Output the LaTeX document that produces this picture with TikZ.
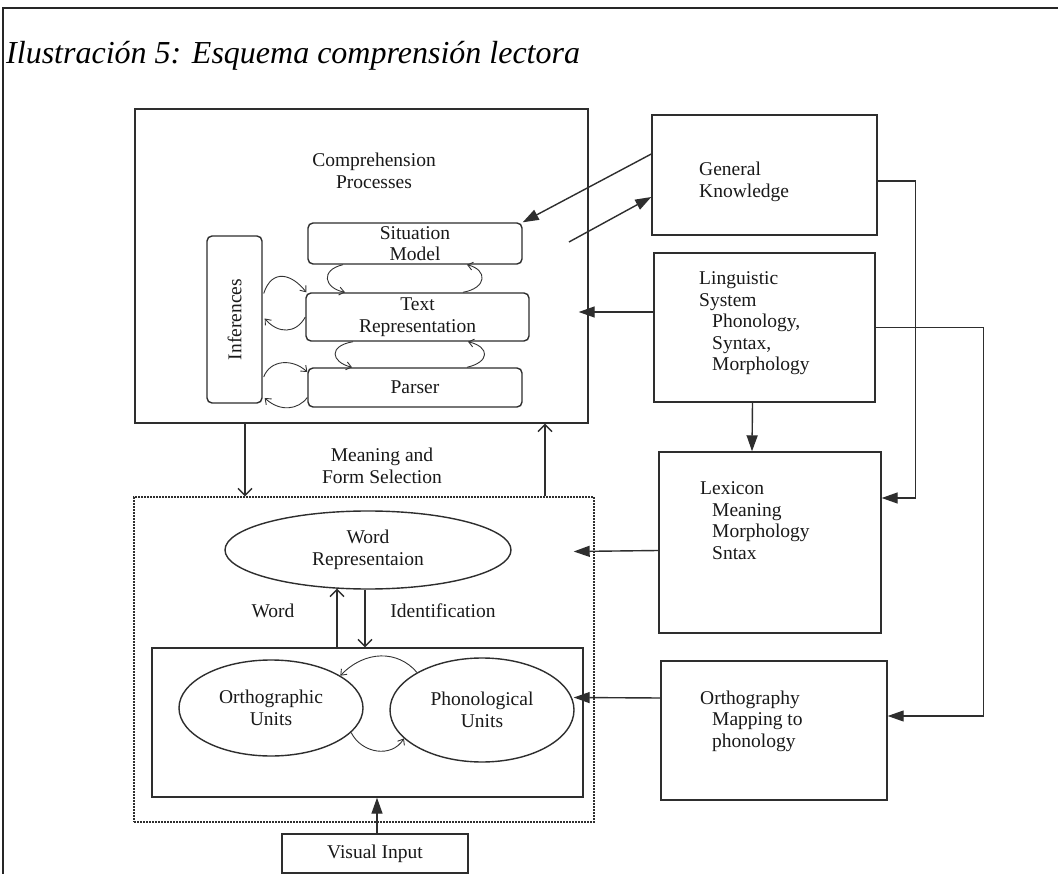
\documentclass[tikz,border=0pt]{standalone}
\usepackage{fontspec}
\setmainfont{Liberation Serif}
\usetikzlibrary{arrows.meta,calc,shapes.geometric}

\begin{document}
\begin{tikzpicture}[x=1pt,y=-1pt,
  ink/.style={draw=black!82, line width=1.4pt},
  box/.style={ink, rectangle, inner sep=0pt},
  rbox/.style={box, rounded corners=5pt},
  oval/.style={ink, ellipse, inner sep=0pt},
  lbl/.style={font=\fontsize{19.5}{21.5}\selectfont, align=center, inner sep=0pt, text=black!90},
  ltxt/.style={lbl, align=left, anchor=west},
  fa/.style={ink, -{Triangle[length=16pt,width=11pt]}},
  oa/.style={ink, -{Straight Barb[length=7pt,width=14pt]}},
  ca/.style={draw=black!80, line width=0.9pt, -{Straight Barb[length=5pt,width=8pt]}}]

\useasboundingbox (0,0) rectangle (1058,874);
\fill[white] (0,0) rectangle (1058,874);

% page frame and caption
\draw[line width=1.2pt, black!85] (3,874) -- (3,8) -- (1058,8);
\node[anchor=base west, inner sep=0pt, font=\fontsize{32}{38}\selectfont\itshape] (title) at (6,64)
  {Ilustración 5: Esquema comprensión lectora};

% comprehension processes
\node[box, minimum width=453pt, minimum height=314pt] (comp) at (361.5,266) {};
\node[lbl] (comptxt) at (374,171) {Comprehension\\Processes};
\node[rbox, minimum width=214pt, minimum height=41pt, lbl, ink] (sit) at (415,243.5) {Situation\\Model};
\node[rbox, minimum width=223pt, minimum height=48pt, lbl, ink] (trep) at (417.5,317) {Text\\Representation};
\node[rbox, minimum width=214pt, minimum height=39pt, lbl, ink] (pars) at (415,387.5) {Parser};
\node[rbox, minimum width=55pt, minimum height=167pt] (inf) at (234.5,319.5) {};
\node[lbl, rotate=90] (inftxt) at (inf.center) {Inferences};

% knowledge sources
\node[box, minimum width=225pt, minimum height=120pt] (gk) at (764.5,175) {};
\node[ltxt] (gktxt) at (699,182) {General\\Knowledge};
\node[box, minimum width=221pt, minimum height=149pt] (ling) at (764.5,327.5) {};
\node[ltxt] (lingtxt) at (699,323.5) {Linguistic\\System\\\hspace*{13pt}Phonology,\\\hspace*{13pt}Syntax,\\\hspace*{13pt}Morphology};
\node[box, minimum width=222pt, minimum height=181pt] (lex) at (770,542.5) {};
\node[ltxt] (lextxt) at (700,520.5) {Lexicon\\\hspace*{12pt}Meaning\\\hspace*{12pt}Morphology\\\hspace*{12pt}Sntax};
\node[box, minimum width=226pt, minimum height=139pt] (orth) at (774,730.5) {};
\node[ltxt] (orthtxt) at (700,721) {Orthography\\\hspace*{12pt}Mapping to\\\hspace*{12pt}phonology};

% word identification
\node[box, dash pattern=on 1.6pt off 1.4pt, minimum width=460pt, minimum height=325pt] (dotted) at (364,659.5) {};
\node[lbl] (mfs) at (382,466) {Meaning and\\Form Selection};
\node[oval, lbl, ink, minimum width=286pt, minimum height=78pt] (word) at (368,550) {Word\\Representaion};
\node[lbl] (wlab) at (273,611) {Word};
\node[lbl] (idlab) at (443,611) {Identification};
\node[box, minimum width=431pt, minimum height=149pt] (inner) at (367.5,722.5) {};
\node[oval, lbl, ink, minimum width=184pt, minimum height=96pt] (orthU) at (271,708) {Orthographic\\Units};
\node[oval, lbl, ink, minimum width=184pt, minimum height=104pt] (phonU) at (482,710) {Phonological\\Units};
\node[box, lbl, ink, minimum width=186pt, minimum height=39pt] (vis) at (375,853.5) {Visual Input};

% knowledge connectors
\coordinate (gkin) at (569,242);
\draw[fa] ($(gk.west)+(0,-21)$) -- (sit.north east);
\draw[fa] (gkin) -- ($(gk.west)+(0,22)$);
\draw[fa] ($(ling.west)+(0,-15.5)$) -- ($(comp.east)+(-10,46)$);
\draw[fa] ($(ling.south)+(-12,0)$) -- ($(lex.north)+(-18,0)$);
\draw[fa] ($(gk.east)+(0,6)$) -- ++(38,0) |- ($(lex.east)+(0,-44.5)$);
\draw[fa, line width=1.1pt] (ling.east) -- ++(108,0) |- ($(orth.east)+(0,-14.5)$);
\draw[fa] ($(lex.west)+(0,8)$) -- ($(dotted.east)+(-21,-108)$);
\draw[fa] ($(orth.west)+(0,-32.5)$) -- ($(phonU.east)+(-1,-12.5)$);

% between levels
\draw[oa] ($(comp.south)+(-116.5,0)$) -- ($(dotted.north)+(-119,0)$);
\draw[oa] ($(dotted.north)+(181,0)$) -- ($(comp.south)+(183.5,0)$);
\draw[oa] ($(inner.north)+(-30.5,0)$) -- ($(word.south)+(-31,-1)$);
\draw[oa] ($(word.south)+(-3,0)$) -- ($(inner.north)+(-2.5,0)$);
\draw[fa] ($(vis.north)+(2,0)$) -- ($(inner.south)+(9.5,0)$);

% inference loops
\draw[ca] ($(inf.east)+(1,-26)$) .. controls (272,268) and (292,274) .. ($(trep.north west)+(1,0)$);
\draw[ca] (trep.west) .. controls (296,334) and (278,334) .. ($(inf.east)+(2,-1)$);
\draw[ca] ($(inf.east)+(1,57.5)$) .. controls (270,360) and (292,358) .. ($(pars.west)+(0,-15.5)$);
\draw[ca] ($(pars.west)+(0,10)$) .. controls (298,410) and (280,412) .. ($(inf.east)+(2,78.5)$);

% level loops
\draw[ca] ($(sit.south)+(-72,0)$) .. controls (320,270) and (324,288) .. ($(trep.north)+(-72.5,0)$);
\draw[ca] ($(trep.north)+(45.5,0)$) .. controls (487,288) and (488,270) .. ($(sit.south)+(52,0)$);
\draw[ca] ($(trep.south)+(-64.5,0)$) .. controls (328,346) and (331,362) .. ($(pars.north)+(-63,0)$);
\draw[ca] ($(pars.north)+(52,0)$) .. controls (490,362) and (490,347) .. ($(trep.south)+(50.5,0)$);

% unit loops
\draw[ca] (phonU.150) .. controls (398,650) and (365,650) .. (orthU.25);
\draw[ca] (orthU.-17) .. controls (362,754) and (392,758) .. (phonU.200);

\end{tikzpicture}
\end{document}
